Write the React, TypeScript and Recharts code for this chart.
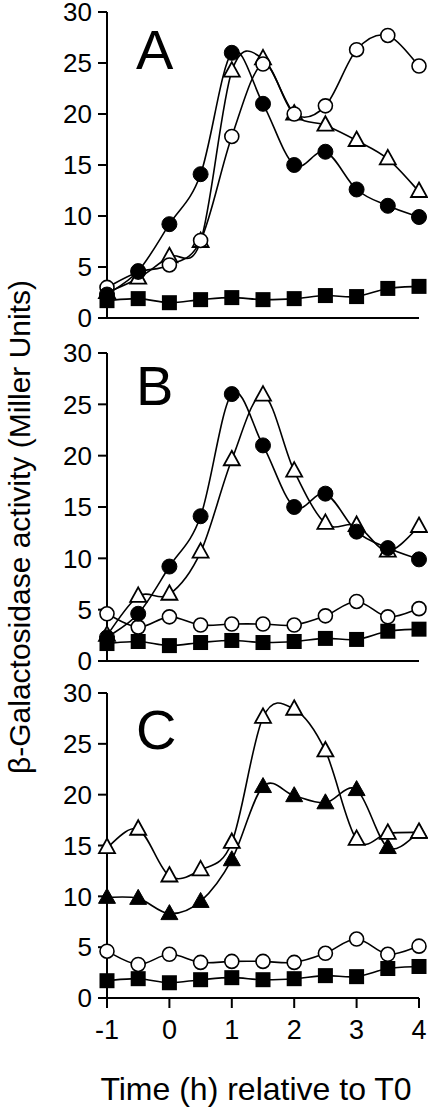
import React from 'react';
import { LineChart, Line, XAxis, YAxis } from 'recharts';

const times = [-1, -0.5, 0, 0.5, 1, 1.5, 2, 2.5, 3, 3.5, 4];
const xTicks = [-1, 0, 1, 2, 3, 4];
const yTicks = [0, 5, 10, 15, 20, 25, 30];
const panelLetters = ['A', 'B', 'C'];
const xTitle = 'Time (h) relative to T0';
const yTitle = 'β-Galactosidase activity (Miller Units)';

// shared series
const squares = [1.7, 1.9, 1.5, 1.8, 2.0, 1.8, 1.9, 2.2, 2.1, 2.9, 3.1];
const filledCircles = [2.3, 4.6, 9.2, 14.1, 26.0, 21.0, 15.0, 16.3, 12.6, 11.0, 9.9];
const lowOpenCircles = [4.6, 3.3, 4.3, 3.5, 3.6, 3.6, 3.5, 4.4, 5.8, 4.3, 5.1];

// panel A
const aOpenTriangles = [2.5, 3.9, 6.0, 7.5, 24.2, 25.4, 20.0, 18.9, 17.4, 15.6, 12.4];
const aOpenCircles = [3.0, 4.5, 5.2, 7.6, 17.8, 24.9, 20.0, 20.8, 26.3, 27.7, 24.7];

// panel B
const bOpenTriangles = [2.5, 6.3, 6.5, 10.6, 19.6, 25.9, 18.5, 13.4, 13.2, 10.7, 13.1];

// panel C
const cOpenTriangles = [14.8, 16.6, 12.0, 12.6, 15.3, 27.6, 28.4, 24.3, 15.6, 16.2, 16.3];
const cFilledTriangles = [9.9, 9.8, 8.3, 9.5, 13.6, 20.8, 19.9, 19.2, 20.5, 14.8, 16.3];

const FONT = '"Liberation Sans", Arial, Helvetica, sans-serif';

function catmullRom(context: any) {
  let pts: number[][] = [];
  return {
    areaStart() {},
    areaEnd() {},
    lineStart() {
      pts = [];
    },
    point(x: number, y: number) {
      pts.push([+x, +y]);
    },
    lineEnd() {
      const n = pts.length;
      if (!n) return;
      context.moveTo(pts[0][0], pts[0][1]);
      for (let i = 0; i < n - 1; i++) {
        const p0 = pts[i - 1] || pts[i];
        const p1 = pts[i];
        const p2 = pts[i + 1];
        const p3 = pts[i + 2] || p2;
        const t = 1 / 6;
        context.bezierCurveTo(
          p1[0] + (p2[0] - p0[0]) * t,
          p1[1] + (p2[1] - p0[1]) * t,
          p2[0] - (p3[0] - p1[0]) * t,
          p2[1] - (p3[1] - p1[1]) * t,
          p2[0],
          p2[1]
        );
      }
    },
  };
}

type Marker = 'openCircle' | 'filledCircle' | 'square' | 'openTriangle' | 'filledTriangle';

const makeDot = (kind: Marker) => (p: any) => {
  const { cx, cy, index } = p;
  const key = `${kind}-${index}`;
  if (cx == null || cy == null) return <g key={key} />;
  switch (kind) {
    case 'openCircle':
      return <circle key={key} cx={cx} cy={cy} r={7} fill="#fff" stroke="#000" strokeWidth={1.6} />;
    case 'filledCircle':
      return <circle key={key} cx={cx} cy={cy} r={7.5} fill="#000" stroke="#000" strokeWidth={1} />;
    case 'square':
      return <rect key={key} x={cx - 7.5} y={cy - 7.5} width={15} height={15} fill="#000" />;
    case 'openTriangle':
      return (
        <path
          key={key}
          d={`M${cx},${cy - 9} L${cx + 8},${cy + 5.5} L${cx - 8},${cy + 5.5} Z`}
          fill="#fff"
          stroke="#000"
          strokeWidth={1.8}
        />
      );
    case 'filledTriangle':
      return (
        <path
          key={key}
          d={`M${cx},${cy - 9} L${cx + 8.5},${cy + 6} L${cx - 8.5},${cy + 6} Z`}
          fill="#000"
          stroke="#000"
          strokeWidth={1}
        />
      );
  }
  return <g key={key} />;
};

type Series = { key: string; values: number[]; marker: Marker };

const buildData = (series: Series[]) =>
  times.map((t, i) => {
    const row: any = { t };
    series.forEach((s) => {
      row[s.key] = s.values[i];
    });
    return row;
  });

const panelSeries: Series[][] = [
  [
    { key: 'tri', values: aOpenTriangles, marker: 'openTriangle' },
    { key: 'oc', values: aOpenCircles, marker: 'openCircle' },
    { key: 'fc', values: filledCircles, marker: 'filledCircle' },
    { key: 'sq', values: squares, marker: 'square' },
  ],
  [
    { key: 'oc', values: lowOpenCircles, marker: 'openCircle' },
    { key: 'tri', values: bOpenTriangles, marker: 'openTriangle' },
    { key: 'fc', values: filledCircles, marker: 'filledCircle' },
    { key: 'sq', values: squares, marker: 'square' },
  ],
  [
    { key: 'oc', values: lowOpenCircles, marker: 'openCircle' },
    { key: 'ftri', values: cFilledTriangles, marker: 'filledTriangle' },
    { key: 'tri', values: cOpenTriangles, marker: 'openTriangle' },
    { key: 'sq', values: squares, marker: 'square' },
  ],
];

const panelLayout = [
  { top: 0, height: 340, marginTop: 12, xHeight: 22, showX: false, letterTop: 22 },
  { top: 325, height: 358, marginTop: 28, xHeight: 22, showX: false, letterTop: 358 },
  { top: 665, height: 442, marginTop: 28, xHeight: 109, showX: true, letterTop: 702 },
];

const axisStroke = { stroke: '#000', strokeWidth: 2 };

function Panel({ idx }: { idx: number }) {
  const L = panelLayout[idx];
  const series = panelSeries[idx];
  const data = buildData(series);
  return (
    <div style={{ position: 'absolute', left: 0, top: L.top, width: 428, height: L.height }}>
      <LineChart
        width={428}
        height={L.height}
        data={data}
        margin={{ top: L.marginTop, right: 9, left: 0, bottom: 0 }}
        style={{ overflow: 'visible' }}
      >
        <XAxis
          dataKey="t"
          type="number"
          domain={[-1, 4]}
          ticks={xTicks}
          height={L.xHeight}
          axisLine={axisStroke}
          tickLine={axisStroke}
          tickSize={10}
          tickMargin={12}
          tick={L.showX ? { fontSize: 27, fill: '#000', fontFamily: FONT } : false}
          interval={0}
        />
        <YAxis
          type="number"
          domain={[0, 30]}
          ticks={yTicks}
          width={107}
          axisLine={axisStroke}
          tickLine={axisStroke}
          tickSize={9}
          tickMargin={6}
          tick={{ fontSize: 26, fill: '#000', fontFamily: FONT }}
          interval={0}
        />
        {series.map((s) => (
          <Line
            key={s.key}
            dataKey={s.key}
            type={catmullRom as any}
            stroke="#000"
            strokeWidth={1.6}
            dot={makeDot(s.marker)}
            activeDot={false}
            isAnimationActive={false}
          />
        ))}
      </LineChart>
      <div
        style={{
          position: 'absolute',
          left: 136,
          top: L.letterTop - L.top,
          fontFamily: FONT,
          fontSize: 56,
          lineHeight: '56px',
          color: '#000',
        }}
      >
        {panelLetters[idx]}
      </div>
    </div>
  );
}

export default function App() {
  return (
    <div
      style={{
        position: 'absolute',
        left: 0,
        top: 0,
        width: 428,
        height: 1107,
        background: '#fff',
        overflow: 'hidden',
        fontFamily: FONT,
      }}
    >
      <Panel idx={0} />
      <Panel idx={1} />
      <Panel idx={2} />
      <div
        style={{
          position: 'absolute',
          left: 20 - 300,
          top: 527 - 18,
          width: 600,
          height: 36,
          lineHeight: '36px',
          fontSize: 30,
          textAlign: 'center',
          transform: 'rotate(-90deg)',
          color: '#000',
          whiteSpace: 'nowrap',
        }}
      >
        {yTitle}
      </div>
      <div
        style={{
          position: 'absolute',
          left: 76,
          top: 1071,
          width: 360,
          height: 36,
          lineHeight: '36px',
          fontSize: 32,
          textAlign: 'center',
          color: '#000',
          whiteSpace: 'nowrap',
        }}
      >
        {xTitle}
      </div>
    </div>
  );
}
